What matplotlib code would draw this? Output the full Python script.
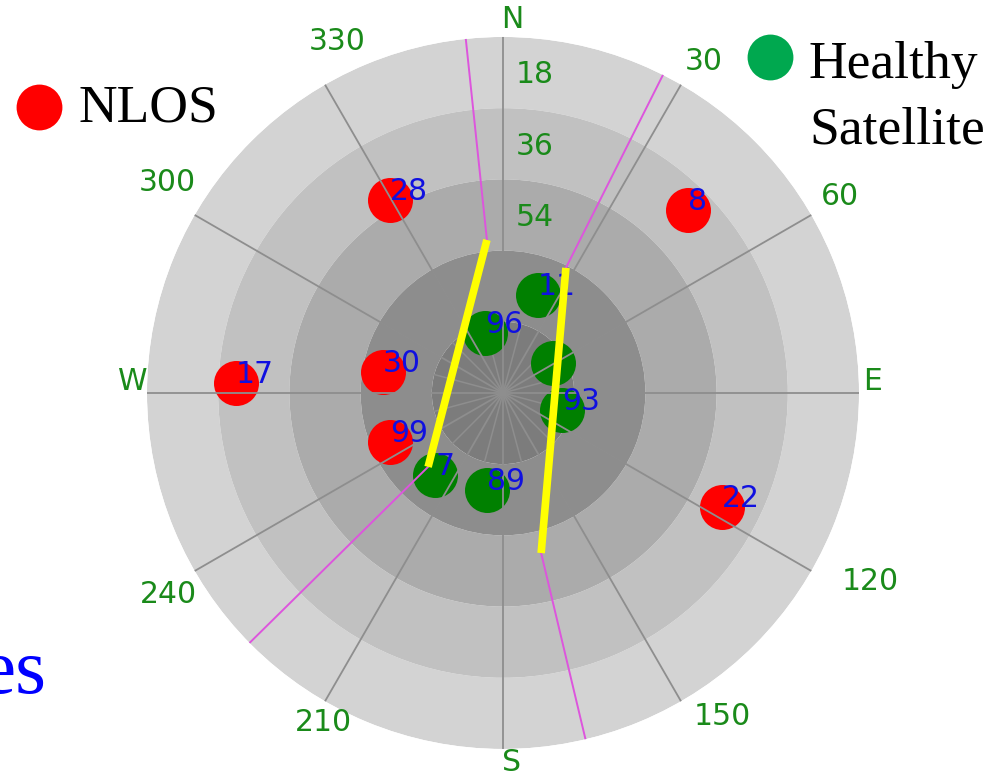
import numpy as np
import matplotlib
matplotlib.use('Agg')
import matplotlib.pyplot as plt
from matplotlib.lines import Line2D

# satellites: azimuth (deg, clockwise from N), elevation (deg)
nlos_prn = ['28', '8', '17', '30', '99', '22']
nlos_az = [329.7, 45.3, 272.1, 279.9, 246.6, 117.5]
nlos_el = [33.5, 24.2, 22.5, 59.2, 58.9, 27.6]

los_prn = ['11', '96', '', '93', '7', '89']
los_az = [19.7, 343.3, 59.0, 106.1, 219.7, 189.4]
los_el = [63.7, 74.2, 75.3, 74.5, 63.1, 65.2]

# building edges (yellow) : azimuth / elevation of both ends
edge_az = [[354.0, 225.4], [26.7, 166.6]]
edge_el = [[51.1, 63.4], [54.6, 48.4]]

# elevation rings
ring_el = [0, 18, 36, 54, 72, 90]
ring_colors = ['#d3d3d3', '#c1c1c1', '#ababab', '#8d8d8d', '#7c7c7c']
ring_labels = ['18', '36', '54']

az_ticks = list(range(0, 360, 30))
az_labels = ['N', '30', '60', 'E', '120', '150', 'S', '210', '240', 'W', '300', '330']
# label centre, pixel offsets from the plot centre (dx right, dy up)
az_label_dx = [9, 201, 337, 370, 367, 219, 9, -180, -335, -370, -336, -166]
az_label_dy = [373, 331, 196, 11, -189, -324, -370, -330, -202, 11, 210, 351]


def zen(el):
    return 90 - np.asarray(el, dtype=float)


fig = plt.figure(figsize=(10, 7.78), dpi=100)
ax = fig.add_axes([0.147, 0.0373, 0.712, 0.9152], projection='polar')
ax.set_theta_zero_location('N')
ax.set_theta_direction(-1)
ax.set_ylim(0, 90)
ax.spines['polar'].set_visible(False)
ax.set_facecolor('white')

# shaded elevation bands
for i in range(len(ring_colors)):
    r0 = zen(ring_el[i + 1])
    r1 = zen(ring_el[i])
    ax.bar(0, r1 - r0, width=2 * np.pi, bottom=r0, color=ring_colors[i],
           edgecolor='none', zorder=0, align='edge')

# spokes
ax.set_thetagrids(az_ticks, labels=[''] * len(az_ticks))
ax.set_rgrids([45], labels=[''])
ax.yaxis.grid(False)
ax.xaxis.grid(True, color='#8e8e8e', linewidth=1.3)
ax.set_axisbelow(False)
ax.tick_params(length=0)
for a in np.arange(15, 360, 30):
    ax.plot([np.radians(a)] * 2, [0, zen(72)], color='#8e8e8e', lw=1.1, zorder=0.5)

# satellites
ax.scatter(np.radians(nlos_az), zen(nlos_el), s=1050, color='#ff0000', zorder=1, linewidths=0)
ax.scatter(np.radians(los_az), zen(los_el), s=1050, color='#008000', zorder=1, linewidths=0)
for prn, a, e in zip(nlos_prn + los_prn, nlos_az + los_az, nlos_el + los_el):
    ax.text(np.radians(a), zen(e), prn, color='#1010e0', fontsize=21.5, zorder=3)

# building edges and their projections to the horizon
for azs, els in zip(edge_az, edge_el):
    ax.plot(np.radians(azs), zen(els), color='#ffff00', lw=5.5, zorder=4,
            solid_capstyle='butt')
    for a, e in zip(azs, els):
        ax.plot([np.radians(a)] * 2, [zen(e), 90], color='#dd55dd', lw=1.4, zorder=3.5)

# elevation labels
for lab, e in zip(ring_labels, ring_el[1:4]):
    yfrac = 0.5 + (zen(e - 8.4) / 90 * 356) / 712
    ax.text(0.5 + 32 / 712, yfrac, lab, transform=ax.transAxes, color='#1a8a1a',
            fontsize=21.5, ha='center', va='center', zorder=5)

# azimuth labels
for lab, dx, dy in zip(az_labels, az_label_dx, az_label_dy):
    ax.text(0.5 + dx / 712, 0.5 + dy / 712, lab, transform=ax.transAxes,
            color='#1a8a1a', fontsize=21.5, ha='center', va='center', clip_on=False)

# legend-like annotations
serif = ['Liberation Serif', 'DejaVu Serif']
W, H = 1000, 778
fig.add_artist(Line2D([39 / W], [1 - 107 / H], marker='o', markersize=33,
                      color='#ff0000', markeredgewidth=0, transform=fig.transFigure))
fig.text(79 / W, 1 - 122 / H, 'NLOS', family=serif, fontsize=38.5, color='black',
         va='baseline')
fig.add_artist(Line2D([770 / W], [1 - 57 / H], marker='o', markersize=33,
                      color='#00a84f', markeredgewidth=0, transform=fig.transFigure))
fig.text(809 / W, 1 - 78 / H, 'Healthy', family=serif, fontsize=38.5, color='black',
         va='baseline')
fig.text(809 / W, 1 - 143 / H, 'Satellite', family=serif, fontsize=38.5, color='black',
         va='baseline')
fig.text(47 / W, 1 - 693 / H, 'es', family=serif, fontsize=57, color='#0000ff',
         ha='right', va='baseline')

fig.savefig('out.png', dpi=100)
